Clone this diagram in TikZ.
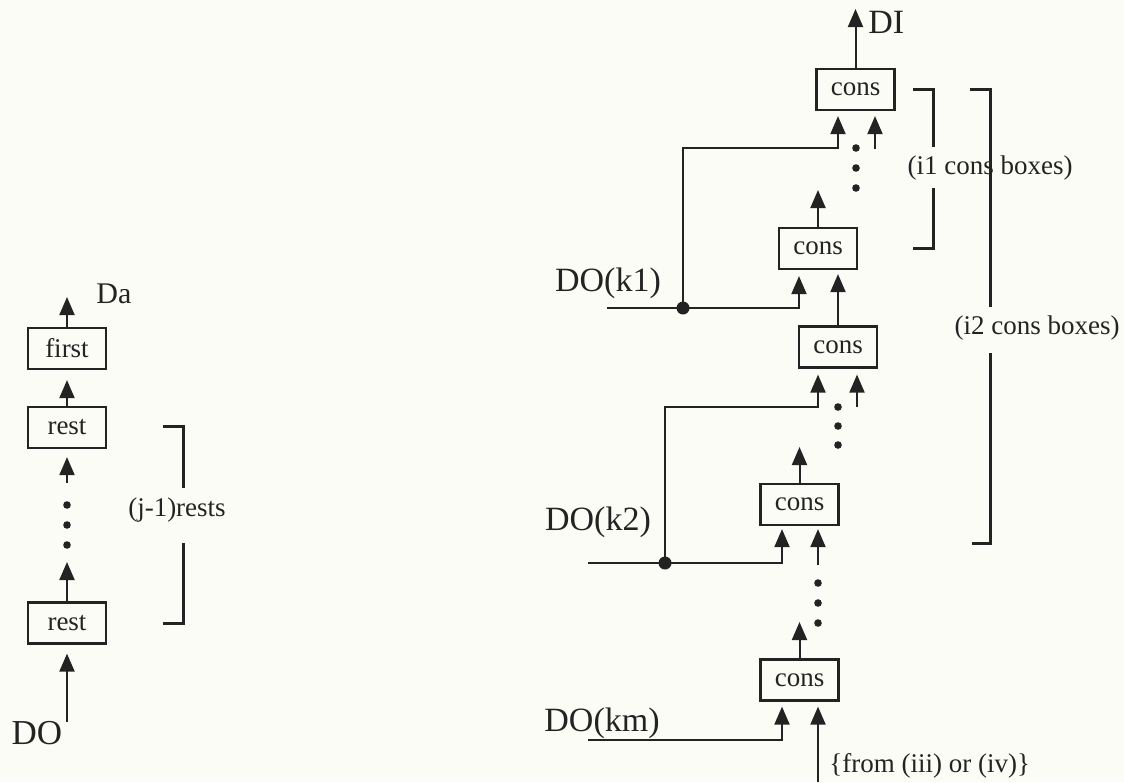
\documentclass[tikz,border=0pt]{standalone}
\usepackage{fontspec}
\setmainfont{Liberation Serif}
\usetikzlibrary{arrows.meta}
\definecolor{bgpaper}{RGB}{252,252,246}
\definecolor{ink}{RGB}{35,35,35}
\begin{document}
\begin{tikzpicture}[x=0.5pt,y=-0.5pt,
  fnbox/.style={draw=ink, line width=1.1pt, minimum width=39pt, minimum height=20.5pt, inner sep=0pt, font=\fontsize{13.5}{14}\selectfont, text=ink},
  wire/.style={draw=ink, line width=1pt},
  arr/.style={wire, -{Triangle[length=9pt,width=7.5pt]}},
  brk/.style={draw=ink, line width=1.5pt},
  lbl/.style={font=\fontsize{17}{18}\selectfont, text=ink, inner sep=0pt},
  notetext/.style={font=\fontsize{13.5}{14}\selectfont, text=ink, inner sep=0pt},
  ellipsisdot/.style={circle, fill=ink, inner sep=0pt, minimum size=3.8pt},
  junc/.style={circle, fill=ink, inner sep=0pt, minimum size=6.5pt},
]
\useasboundingbox (0,0) rectangle (1124,782);
\fill[bgpaper] (0,0) rectangle (1124,782);

% ---------- left column ----------
\node[fnbox] (first) at (67,348.5) {first};
\node[fnbox] (rest1) at (67,427.5) {rest};
\node[fnbox] (rest2) at (67,623) {rest};
\coordinate (daTip) at (67,297);
\draw[arr] (first.north) -- (daTip);
\node[lbl, anchor=west, font=\fontsize{15}{16}\selectfont] (da) at (96,294) {Da};
\draw[arr, shorten >=5pt] (rest1.north) -- (first.south);
\coordinate (r1in) at (67,483);
\draw[arr, shorten >=4pt] (r1in) -- (rest1.south);
\node[ellipsisdot] (ld1) at (67,505) {};
\node[ellipsisdot] (ld2) at (67,525) {};
\node[ellipsisdot] (ld3) at (67,545) {};
\coordinate (r2out) at (67,562);
\draw[arr] (rest2.north) -- (r2out);
\coordinate (doin) at (67,722);
\draw[arr, shorten >=4.5pt] (doin) -- (rest2.south);
\node[lbl, font=\fontsize{17.5}{18}\selectfont] (do) at (37,733.5) {DO};
% bracket (j-1)
\draw[brk] (163,426) -- (183,426) -- (183,488);
\draw[brk] (183,543) -- (183,623) -- (163,623);
\node[notetext] (jrests) at (177,510) {(j-1)rests};

% ---------- right part ----------
\node[fnbox] (c1) at (855.5,89.5) {cons};
\node[fnbox] (c2) at (818,248.5) {cons};
\node[fnbox] (c3) at (838,347) {cons};
\node[fnbox] (c4) at (799.5,504.5) {cons};
\node[fnbox] (c5) at (799.5,680) {cons};

\coordinate (diTip) at (855.5,9);
\draw[arr] (c1.north) -- (diTip);
\node[lbl, anchor=west, font=\fontsize{17}{18}\selectfont] (di) at (868,22) {DI};

% cons1 inputs
\node[junc] (j1) at (683,308) {};
\coordinate (c1L) at (838,148);
\draw[arr, shorten >=2.5pt] (j1.center) |- (c1L) -- (c1L |- c1.south);
\coordinate (c1R) at (875,149);
\draw[arr, shorten >=2.5pt] (c1R) -- (c1R |- c1.south);
\node[ellipsisdot] (rd1) at (856,148) {};
\node[ellipsisdot] (rd2) at (856,168) {};
\node[ellipsisdot] (rd3) at (856,188) {};

% cons2
\coordinate (c2out) at (818,190);
\draw[arr] (c2.north) -- (c2out);
\coordinate (k1start) at (607,308);
\coordinate (c2L) at (799,308);
\draw[arr, shorten >=3pt] (k1start) -- (c2L) -- (c2L |- c2.south);
\draw[arr, shorten >=2pt] (c3.north) -- (c3.north |- c2.south);

% cons3
\node[junc] (j2) at (665,563) {};
\coordinate (c3L) at (818,407);
\draw[arr, shorten >=3pt] (j2.center) |- (c3L) -- (c3L |- c3.south);
\coordinate (c3R) at (857,407);
\draw[arr, shorten >=3pt] (c3R) -- (c3R |- c3.south);
\node[ellipsisdot] (md1) at (838,407) {};
\node[ellipsisdot] (md2) at (838,426) {};
\node[ellipsisdot] (md3) at (838,445) {};

% cons4
\coordinate (c4out) at (799.5,447);
\draw[arr] (c4.north) -- (c4out);
\coordinate (k2start) at (588,563);
\coordinate (c4L) at (782,563);
\draw[arr, shorten >=1.5pt] (k2start) -- (c4L) -- (c4L |- c4.south);
\coordinate (c4R) at (818,565);
\draw[arr, shorten >=1.5pt] (c4R) -- (c4R |- c4.south);
\node[ellipsisdot] (bd1) at (818,583) {};
\node[ellipsisdot] (bd2) at (818,603) {};
\node[ellipsisdot] (bd3) at (818,623) {};

% cons5
\coordinate (c5out) at (799.5,622);
\draw[arr] (c5.north) -- (c5out);
\coordinate (kmstart) at (588,740);
\coordinate (c5L) at (782,740);
\draw[arr, shorten >=2.5pt] (kmstart) -- (c5L) -- (c5L |- c5.south);
\coordinate (c5R) at (818,782);
\draw[arr, shorten >=2.5pt] (c5R) -- (c5R |- c5.south);
\node[notetext, anchor=west] (fromlbl) at (829,766) {\{from (iii) or (iv)\}};

% labels
\node[lbl] (dok1) at (608,283) {DO(k1)};
\node[lbl] (dok2) at (598,522) {DO(k2)};
\node[lbl] (dokm) at (602,723) {DO(km)};

% brackets
\draw[brk] (913,89) -- (933,89) -- (933,147);
\draw[brk] (933,188) -- (933,248) -- (913,248);
\draw[brk] (970,89) -- (990,89) -- (990,307);
\draw[brk] (990,353) -- (990,543) -- (972,543);
\node[notetext] (i1lbl) at (990,168) {(i1 cons boxes)};
\node[notetext] (i2lbl) at (1037,328) {(i2 cons boxes)};
\end{tikzpicture}
\end{document}
